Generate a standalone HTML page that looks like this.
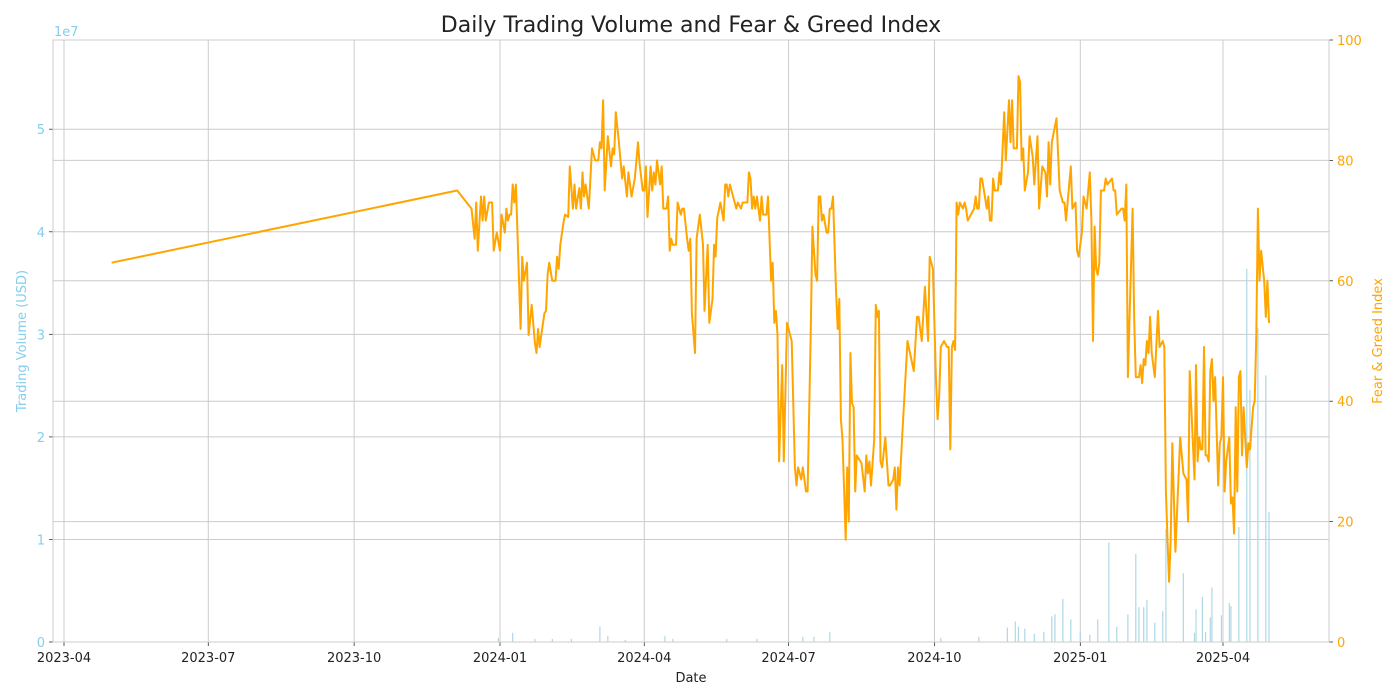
<!DOCTYPE html>
<html><head><meta charset="utf-8"><style>
html,body{margin:0;padding:0;background:#fff;}
svg{display:block;font-family:"DejaVu Sans","Liberation Sans",sans-serif;}
</style></head><body>
<svg id="chart" width="1400" height="700">
<text x="691" y="32" text-anchor="middle" font-size="22" fill="#222">Daily Trading Volume and Fear &amp; Greed Index</text>
<g id="grid"></g><g id="bars"></g><g id="line"></g><g id="axes"></g>
<text x="54" y="36" font-size="13" fill="#87ceeb">1e7</text>
<text x="691" y="682" text-anchor="middle" font-size="13" fill="#222">Date</text>
<text transform="translate(26,341) rotate(-90)" text-anchor="middle" font-size="13" fill="#87ceeb">Trading Volume (USD)</text>
<text transform="translate(1382,341) rotate(-90)" text-anchor="middle" font-size="13" fill="#ffa500">Fear &amp; Greed Index</text>
</svg>
<script>
// days since 2023-04-01
const xTickDays=[0,91,183,275,366,457,549,641,731];
const xTickLabels=["2023-04","2023-07","2023-10","2024-01","2024-04","2024-07","2024-10","2025-01","2025-04"];
const leftTicks=[0,1,2,3,4,5]; // x1e7
const rightTicks=[0,20,40,60,80,100];
const fgDays=[30,248,257,259,260,261,263,264,265,266,268,270,271,273,275,276,278,279,280,281,282,283,284,285,288,289,290,292,293,295,297,298,299,300,303,304,305,306,308,310,311,312,313,315,316,318,319,321,322,323,325,326,327,328,329,331,333,335,337,338,339,340,341,343,345,346,347,348,350,352,353,355,356,357,358,360,362,363,365,366,367,368,370,371,372,373,374,376,377,378,380,381,382,383,384,386,387,389,390,391,393,394,395,396,398,399,401,403,404,406,407,409,410,411,412,414,416,417,418,419,420,424,425,427,428,431,432,433,434,435,436,437,439,440,441,443,444,446,447,448,449,450,451,453,454,456,459,461,462,463,465,466,468,469,471,472,474,475,476,477,478,479,481,482,483,484,485,487,488,489,490,491,493,494,495,496,497,498,499,500,503,505,506,507,508,509,511,512,513,514,515,516,518,520,521,523,524,525,526,527,529,532,536,538,539,541,543,545,546,548,550,551,552,553,555,557,558,559,560,561,562,563,564,565,567,568,569,570,572,574,575,576,577,578,579,582,583,584,585,586,587,589,590,591,593,594,596,597,598,599,601,602,603,604,605,606,608,609,611,612,614,615,617,619,620,621,622,623,626,628,630,631,632,633,635,636,638,639,640,642,643,645,647,648,649,650,651,652,653,654,656,657,658,661,662,663,664,667,668,669,670,671,674,675,676,678,679,680,681,682,683,684,685,686,688,690,691,693,694,695,696,697,698,699,701,704,706,708,709,710,713,714,715,716,717,718,719,720,721,722,723,724,725,726,728,729,730,731,732,733,735,736,737,738,739,740,741,742,743,744,746,747,748,750,751,752,753,754,755,757,758,759,760,761];
const fgValues=[63,75,72,67,73,65,74,70,74,70,73,73,65,68,65,71,68,72,70,71,71,76,73,76,52,64,60,63,51,56,49.7,48,52,49,54.6,55,61,63,60,60,64,62,66,69.6,71,70.6,79,72,76,72,75.4,72,78,74,76,72,82,80,80,83,82,90,75,84,79,82,81,88,83,77,79,74,78,76,74,77,83,79.6,75,75,79,70.6,79,75,78,76,80,76,79,72,72,74,65,67,66,66,73,71,72,72,67,65,67,54.6,48,67,71,66,55,66,53,57,66,64,70.4,73,70,76,76,74,76,72,73,72,73,73,78,77,72,74,72,74,70,74,71,71,74,60,63,53,55,51,30,46,30,53,50,29,26,29,27,29,25,25,52,69,61,60,74,74,70,71,68,68,72,72,74,58,52,57,37,33.6,17,29,20,48,39.7,39,25,31,29.7,25,31,28,30,26,33.6,56,54,55,30,29,34,26,26,27,29,22,29,26,35.7,50,45,54,54,50,59,50,64,62,43.5,37,41,49,50,49,49,32,49,50,48.5,73,71,73,72,73,72,70,71,72,74,72,72,77,77,72,74,70,70,77,75,75,78,76,88,80,90,83,90,82,82,94,93,80,82,75,78,84,80.6,76,84,72,79,78,74,83,76,83,87,75,73,73,70,73,79,72,73,65,64,68,74,72,78,70,50,69,62,61,63,75,75,77,76,77,75,75,71,72,72,70,76,44,72,53.5,44,44,46,43,47,46,50,48,54,48,44,55,49,50,49,25,17,10,17,33,15,34,28,27,20,45,27,46,30,34,32,32,49,31,31,30,45,47,40,44,26,33,34,44,25,30,34,23,24,18,39,25,44,45,31,39,29,33,32,39,40,51,72,60,65,60,54,60,53];
const volDays=[274,283,297,308,320,338,343,354,379,384,418,437,457,466,473,483,553,577,595,600,602,606,612,618,623,625,630,635,641,647,652,659,664,671,676,678,681,683,688,693,695,706,713,714,718,720,723,724,730,735,736,741,746,748,753,758,760];
const volValues=[0.4,0.9,0.3,0.3,0.3,1.5,0.6,0.2,0.6,0.3,0.3,0.3,0.3,0.5,0.5,1.0,0.4,0.5,1.4,2.0,1.5,1.3,0.8,1.0,2.5,2.7,4.2,2.2,1.0,0.7,2.2,9.7,1.5,2.7,8.6,3.4,3.4,4.1,1.9,3.0,11.0,6.7,0.9,3.2,4.4,1.0,2.4,5.3,2.6,3.8,3.5,11.2,36.4,24.6,30.6,26.0,12.7]; // millions USD

const L=53,R=1329,T=40,B=642;
const xs=d=>64+d*(1159/731);
const yl=v=>B-v*(B-T)/58.7e6;
const yr=v=>B-v*(B-T)/100;
const NS="http://www.w3.org/2000/svg";
function mk(tag,parent,attrs){const e=document.createElementNS(NS,tag);for(const k in attrs)e.setAttribute(k,attrs[k]);parent.appendChild(e);return e;}
const grid=document.getElementById('grid'),axes=document.getElementById('axes'),bars=document.getElementById('bars'),lineG=document.getElementById('line');
xTickDays.forEach((d,i)=>{
  const x=xs(d);
  const g=mk('line',grid,{x1:x,x2:x,y1:T,y2:B,stroke:'#cccccc','stroke-width':1});
  
  
  const tk=mk('line',axes,{x1:x,x2:x,y1:B,y2:B+4,stroke:'#333','stroke-width':0.8});
  
  
  const t=mk('text',axes,{x:x,y:B+20,'text-anchor':'middle','font-size':13,fill:'#222'});
  t.textContent=xTickLabels[i];
  
  
});
leftTicks.forEach(v=>{
  const y=yl(v*1e7);
  const g=mk('line',grid,{x1:L,x2:R,y1:y,y2:y,stroke:'#cccccc','stroke-width':1});
  
  
  const tk=mk('line',axes,{x1:L-4,x2:L,y1:y,y2:y,stroke:'#333','stroke-width':0.8});
  
  
  const t=mk('text',axes,{x:L-8,y:y+5,'text-anchor':'end','font-size':13,fill:'#87ceeb'});
  t.textContent=String(v);
  
  
});
rightTicks.forEach(v=>{
  const y=yr(v);
  const g=mk('line',grid,{x1:L,x2:R,y1:y,y2:y,stroke:'#cccccc','stroke-width':1});
  
  
  const tk=mk('line',axes,{x1:R,x2:R+4,y1:y,y2:y,stroke:'#333','stroke-width':0.8});
  
  
  const t=mk('text',axes,{x:R+8,y:y+5,'font-size':13,fill:'#ffa500'});
  t.textContent=String(v);
  
  
});
const frame=mk('rect',axes,{x:L,y:T,width:R-L,height:B-T,fill:'none',stroke:'#cccccc','stroke-width':1});


volDays.forEach((d,i)=>{
  const x=xs(d),y=yl(volValues[i]*1e6);
  const b=mk('rect',bars,{x:x-0.6,y:y,width:1.2,height:B-y,fill:'#add8e6'});
  
  
});
const pts=fgDays.map((d,i)=>xs(d).toFixed(1)+','+yr(fgValues[i]).toFixed(1)).join(' ');
const pl=mk('polyline',lineG,{points:pts,fill:'none',stroke:'#ffa500','stroke-width':2,'stroke-linejoin':'round'});


</script>
</body></html>
